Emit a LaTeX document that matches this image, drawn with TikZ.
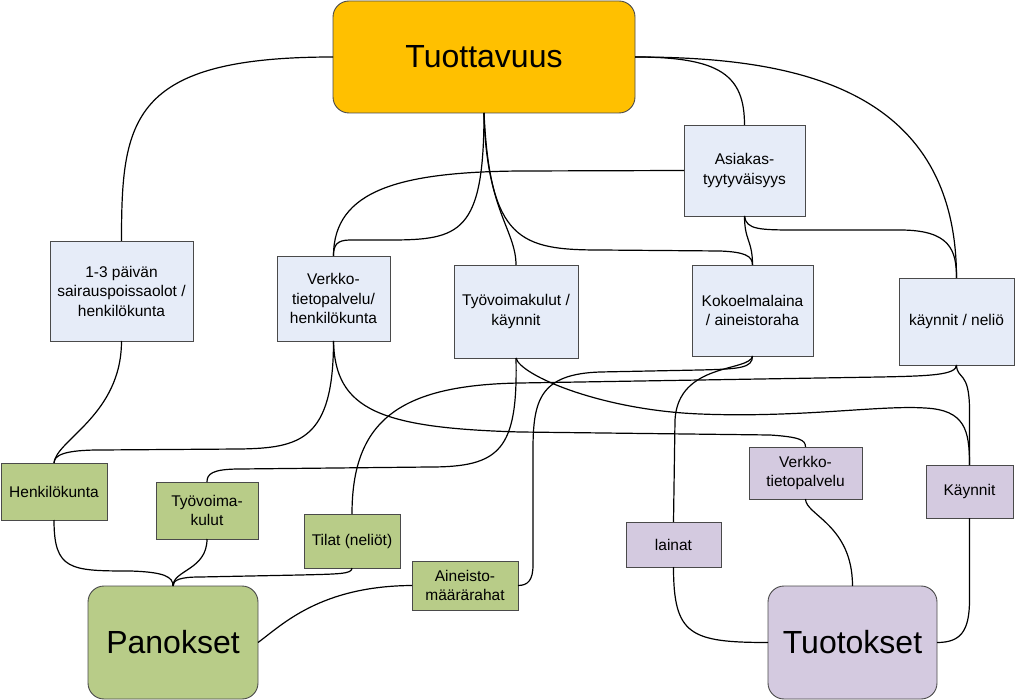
\documentclass[tikz,border=0pt]{standalone}
\usepackage{fontspec}
\setmainfont{Liberation Sans}
\definecolor{torange}{HTML}{FFC000}
\definecolor{tblue}{HTML}{E6ECF8}
\definecolor{tgreen}{HTML}{B8CC88}
\definecolor{tpurple}{HTML}{D4CAE0}
\definecolor{tborder}{HTML}{4A4A4A}
\tikzset{
  box/.style={draw=tborder, line width=0.9pt, inner sep=0pt, outer sep=0pt, align=center,
    font=\fontsize{15.5}{19.5}\selectfont},
  bigbox/.style={box, rounded corners=16pt, font=\fontsize{32}{36}\selectfont},
  bluebox/.style={box, fill=tblue},
  greenbox/.style={box, fill=tgreen},
  purplebox/.style={box, fill=tpurple},
  conn/.style={draw=black, line width=1.2pt}
}
\begin{document}
\begin{tikzpicture}[x=1pt,y=-1pt]
\useasboundingbox (0,0) rectangle (1015,700);
% nodes
\node[bigbox, fill=torange, minimum width=302pt, minimum height=112pt] (T) at (484,57) {Tuottavuus};
\node[bluebox, minimum width=121pt, minimum height=91pt] (As) at (744.5,170.5) {Asiakas-\\tyytyväisyys};
\node[bluebox, minimum width=143pt, minimum height=100pt] (P13) at (121.5,291) {1-3 päivän\\sairauspoissaolot /\\henkilökunta};
\node[bluebox, minimum width=113pt, minimum height=85pt] (VH) at (333.5,298.5) {Verkko-\\tietopalvelu/\\henkilökunta};
\node[bluebox, minimum width=124pt, minimum height=93pt] (Tk) at (516,311.5) {Työvoimakulut /\\käynnit};
\node[bluebox, minimum width=121pt, minimum height=91pt] (Kok) at (752.5,310.5) {Kokoelmalaina\\/ aineistoraha};
\node[bluebox, minimum width=115pt, minimum height=87pt] (kn) at (956.5,321.5) {käynnit / neliö};
\node[greenbox, minimum width=106pt, minimum height=57pt] (Hk) at (54,491.5) {Henkilökunta};
\node[greenbox, minimum width=102pt, minimum height=57pt] (Tkul) at (207,510.5) {Työvoima-\\kulut};
\node[greenbox, minimum width=96pt, minimum height=54pt] (Tilat) at (352,541) {Tilat (neliöt)};
\node[greenbox, minimum width=106pt, minimum height=49pt] (Ain) at (465,585.5) {Aineisto-\\määrärahat};
\node[bigbox, fill=tgreen, minimum width=170pt, minimum height=113pt] (Pan) at (173,642.5) {Panokset};
\node[purplebox, minimum width=113pt, minimum height=52pt] (pV) at (805.5,473) {Verkko-\\tietopalvelu};
\node[purplebox, minimum width=87pt, minimum height=53pt] (Ka) at (969.5,491.5) {Käynnit};
\node[purplebox, minimum width=95pt, minimum height=45pt] (lai) at (673.5,544.5) {lainat};
\node[bigbox, fill=tpurple, minimum width=169pt, minimum height=113pt] (Tuot) at (852.5,642.5) {Tuotokset};
% connectors
\draw[conn] (T.west) .. controls (130,57) and (121.5,120) .. (P13.north);
\draw[conn] (T.south) .. controls (484,233) and (460,240) .. (390,240) -- (350,240) .. controls (336,240) and (333.5,246) .. (VH.north);
\draw[conn] (VH.north) .. controls (333.5,190) and (400,172) .. (520,171) -- (As.west);
\draw[conn] (T.south) .. controls (486,210) and (516,230) .. (Tk.north);
\draw[conn] (T.south) .. controls (490,240) and (520,250) .. (600,250) -- (720,251) .. controls (745,252) and (752.5,256) .. (Kok.north);
\draw[conn] (T.east) .. controls (720,57) and (744.5,75) .. (As.north);
\draw[conn] (T.east) .. controls (790,57) and (956.5,85) .. (kn.north);
\draw[conn] (As.south) .. controls (744.5,241) and (752.5,240) .. (Kok.north);
\draw[conn] (As.south) .. controls (746,230) and (760,230) .. (800,230) -- (900,230) .. controls (950,230) and (956.5,250) .. (kn.north);
\draw[conn] (P13.south) .. controls (121.5,415) and (56,440) .. (Hk.north);
\draw[conn] (VH.south) .. controls (333.5,440) and (300,448) .. (240,449) -- (100,450) .. controls (65,450) and (54,455) .. (Hk.north);
\draw[conn] (VH.south) .. controls (335,410) and (380,428) .. (520,432) -- (770,435) .. controls (800,437) and (805.5,440) .. (pV.north);
\draw[conn] (Tk.south) .. controls (518,450) and (500,467) .. (430,467) -- (240,469) .. controls (212,469) and (207,474) .. (Tkul.north);
\draw[conn] (Tk.south) .. controls (520,375) and (600,410) .. (700,414) .. controls (800,418) and (880,405) .. (925,408) .. controls (965,410) and (969.5,430) .. (Ka.north);
\draw[conn] (Kok.south) .. controls (752.5,368) and (740,369) .. (700,370) -- (600,372) .. controls (540,374) and (533,400) .. (533,450) -- (533,565) .. controls (533,580) and (528,585.5) .. (Ain.east);
\draw[conn] (Kok.south) .. controls (750,372) and (678,362) .. (675,420) -- (lai.north);
\draw[conn] (kn.south) .. controls (956.5,375) and (930,376) .. (880,377) -- (520,383) .. controls (400,385) and (352,420) .. (Tilat.north);
\draw[conn] (kn.south) .. controls (957,380) and (969.5,370) .. (969.5,410) -- (Ka.north);
\draw[conn] (Hk.south) .. controls (54,570) and (70,571) .. (130,571) .. controls (165,572) and (173,577) .. (Pan.north);
\draw[conn] (Tkul.south) .. controls (207,570) and (173,570) .. (Pan.north);
\draw[conn] (Tilat.south) .. controls (352,574) and (340,574) .. (300,575) -- (200,577) .. controls (180,577) and (173,580) .. (Pan.north);
\draw[conn] (Ain.west) .. controls (320,586) and (282,625) .. (Pan.east);
\draw[conn] (pV.south) .. controls (805.5,515) and (852.5,525) .. (Tuot.north);
\draw[conn] (lai.south) .. controls (673.5,635) and (690,642.5) .. (Tuot.west);
\draw[conn] (Ka.south) -- (969.5,600) .. controls (969.5,632) and (960,642.5) .. (Tuot.east);
\end{tikzpicture}
\end{document}
